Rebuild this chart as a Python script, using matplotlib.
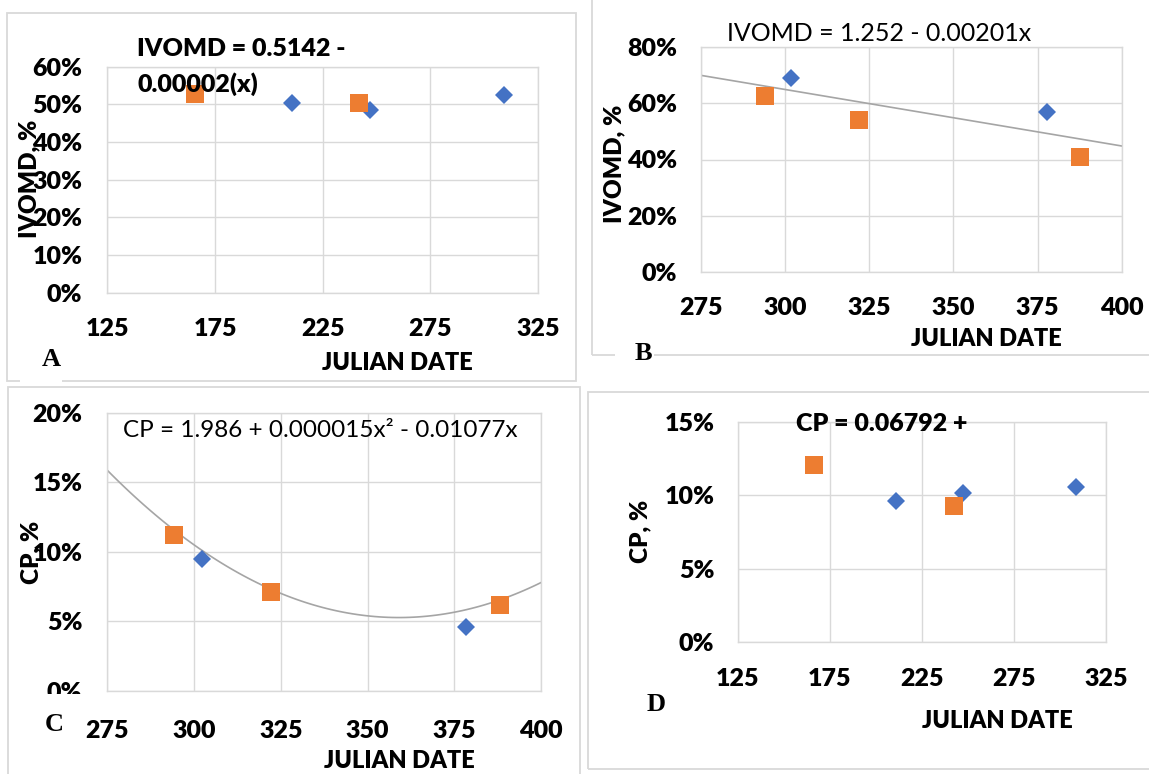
import numpy as np
import matplotlib
matplotlib.use("Agg")
import matplotlib.pyplot as plt
from matplotlib.ticker import PercentFormatter
from matplotlib.patches import Rectangle

plt.rcParams['font.family'] = ['Lato', 'DejaVu Sans']
plt.rcParams['font.weight'] = 'heavy'

W, H = 1149, 774
BLUE = '#4472C4'
ORANGE = '#ED7D31'
GRID = '#D9D9D9'

# panel A: IVOMD vs julian date
a_blue_x = [210.8, 246.8, 309.1]
a_blue_y = [50.4, 48.6, 52.6]
a_orange_x = [165.6, 241.7]
a_orange_y = [52.8, 50.4]

# panel B: IVOMD vs julian date, linear fit
b_blue_x = [301.9, 377.9]
b_blue_y = [68.9, 56.8]
b_orange_x = [294.1, 322.0, 387.7]
b_orange_y = [62.7, 54.1, 41.0]
b_coef = [1.252, -0.00201]

# panel C: CP vs julian date, quadratic fit
c_blue_x = [302.2, 378.2]
c_blue_y = [9.5, 4.6]
c_orange_x = [294.2, 322.2, 388.0]
c_orange_y = [11.2, 7.1, 6.2]
c_coef = [1.986, -0.01077, 0.000015]

# panel D: CP vs julian date
d_blue_x = [211.1, 247.2, 308.8]
d_blue_y = [9.6, 10.2, 10.6]
d_orange_x = [166.4, 242.2]
d_orange_y = [12.1, 9.3]

fig = plt.figure(figsize=(W / 100, H / 100), dpi=100)


def px_axes(l, t, r, b):
    return fig.add_axes([l / W, 1 - b / H, (r - l) / W, (b - t) / H])


def ptext(x, y, s, size=17, **kw):
    # y is the visual centre of capitals, in pixels from the top
    base = y + 0.36 * size * 100 / 72
    return fig.text(x / W, 1 - base / H, s, fontsize=size, va='baseline', **kw)


def frame(l, t, r, b):
    fig.add_artist(Rectangle((l / W, 1 - b / H), (r - l) / W, (b - t) / H,
                             transform=fig.transFigure, fill=False,
                             ec=GRID, lw=1.3, zorder=1))


def white(l, t, r, b):
    fig.add_artist(Rectangle((l / W, 1 - b / H), (r - l) / W, (b - t) / H,
                             transform=fig.transFigure, fc='white',
                             ec='none', zorder=5))


def setup(ax, xlim, xticks, ylim, yticks, xpad, ypad):
    ax.set_xlim(*xlim)
    ax.set_ylim(*ylim)
    ax.set_xticks(xticks)
    ax.set_yticks(yticks)
    ax.yaxis.set_major_formatter(PercentFormatter(xmax=100, decimals=0))
    ax.grid(True, color=GRID, lw=1.0, zorder=0)
    ax.set_axisbelow(True)
    for s in ax.spines.values():
        s.set_color(GRID)
        s.set_linewidth(1.0)
    ax.tick_params(axis='x', length=0, labelsize=18, pad=xpad)
    ax.tick_params(axis='y', length=0, labelsize=18, pad=ypad)
    for lbl in ax.get_xticklabels() + ax.get_yticklabels():
        lbl.set_fontweight('heavy')
    ax.patch.set_alpha(0)


def points(ax, bx, by, ox, oy):
    ax.plot(bx, by, 'D', color=BLUE, ms=9.5, mew=0, zorder=3, clip_on=False)
    ax.plot(ox, oy, 's', color=ORANGE, ms=12.8, mew=0, zorder=3, clip_on=False)


# frames
frame(7.4, 13, 576, 381)
frame(591.7, -5, 1160, 355)
frame(8, 387, 580, 790)
frame(587.7, 391.7, 1160, 769)

# A
ax = px_axes(107.3, 66.7, 538.2, 292.7)
setup(ax, (125, 325), [125, 175, 225, 275, 325], (0, 60), range(0, 61, 10), 18, 18)
points(ax, a_blue_x, a_blue_y, a_orange_x, a_orange_y)
ptext(137, 47, 'IVOMD = 0.5142 -', size=18, ha='left', zorder=6)
ptext(137, 83, '0.00002(x)', size=18, ha='left', zorder=6)
fig.text(29.6 / W, 1 - 179 / H, 'IVOMD, %', rotation=90, ha='center',
         va='center', fontsize=17.5)
ptext(322, 362, 'JULIAN DATE')
white(20, 345, 62, 384)
ptext(51, 357, 'A', size=19, ha='center', family='Liberation Serif',
      weight='bold', zorder=6)

# B
ax = px_axes(700.8, 47, 1121.8, 272)
setup(ax, (275, 400), [275, 300, 325, 350, 375, 400], (0, 80), range(0, 81, 20), 18, 17)
xs = np.linspace(275, 400, 100)
ax.plot(xs, (b_coef[0] + b_coef[1] * xs) * 100, color='#A5A5A5', lw=1.2, zorder=2)
points(ax, b_blue_x, b_blue_y, b_orange_x, b_orange_y)
ptext(879, 32, 'IVOMD = 1.252 - 0.00201x', size=18, ha='center', weight='normal')
fig.text(614.5 / W, 1 - 164 / H, 'IVOMD, %', rotation=90, ha='center',
         va='center', fontsize=17.5)
ptext(911, 337, 'JULIAN DATE')
white(614.5, 340, 654.4, 370)
ptext(643.5, 350, 'B', size=19, ha='center', family='Liberation Serif',
      weight='bold', zorder=6)

# C
ax = px_axes(107.3, 412.7, 541.2, 691)
setup(ax, (275, 400), [275, 300, 325, 350, 375, 400], (0, 20), range(0, 21, 5), 21, 18)
ax.plot(xs, (c_coef[0] + c_coef[1] * xs + c_coef[2] * xs ** 2) * 100,
        color='#A5A5A5', lw=1.2, zorder=2)
points(ax, c_blue_x, c_blue_y, c_orange_x, c_orange_y)
ptext(320.5, 428.3, 'CP = 1.986 + 0.000015x² - 0.01077x', size=17.5,
      ha='center', weight='normal')
fig.text(31.4 / W, 1 - 552.5 / H, 'CP, %', rotation=90, ha='center',
         va='center', fontsize=17.5)
ptext(323.7, 760, 'JULIAN DATE')
white(20, 694, 84, 745)
ptext(54, 721.7, 'C', size=19, ha='center', family='Liberation Serif',
      weight='bold', zorder=6)

# D
ax = px_axes(737.9, 422.3, 1106.2, 641.7)
setup(ax, (125, 325), [125, 175, 225, 275, 325], (0, 15), range(0, 16, 5), 19, 17)
points(ax, d_blue_x, d_blue_y, d_orange_x, d_orange_y)
ptext(882, 422, 'CP = 0.06792 +', size=18, ha='center', zorder=6)
fig.text(640 / W, 1 - 531.7 / H, 'CP, %', rotation=90, ha='center',
         va='center', fontsize=17.5)
ptext(921.9, 719.3, 'JULIAN DATE')
ptext(656, 701.7, 'D', size=19, ha='center', family='Liberation Serif',
      weight='bold', zorder=6)

fig.savefig('out.png', dpi=100)
